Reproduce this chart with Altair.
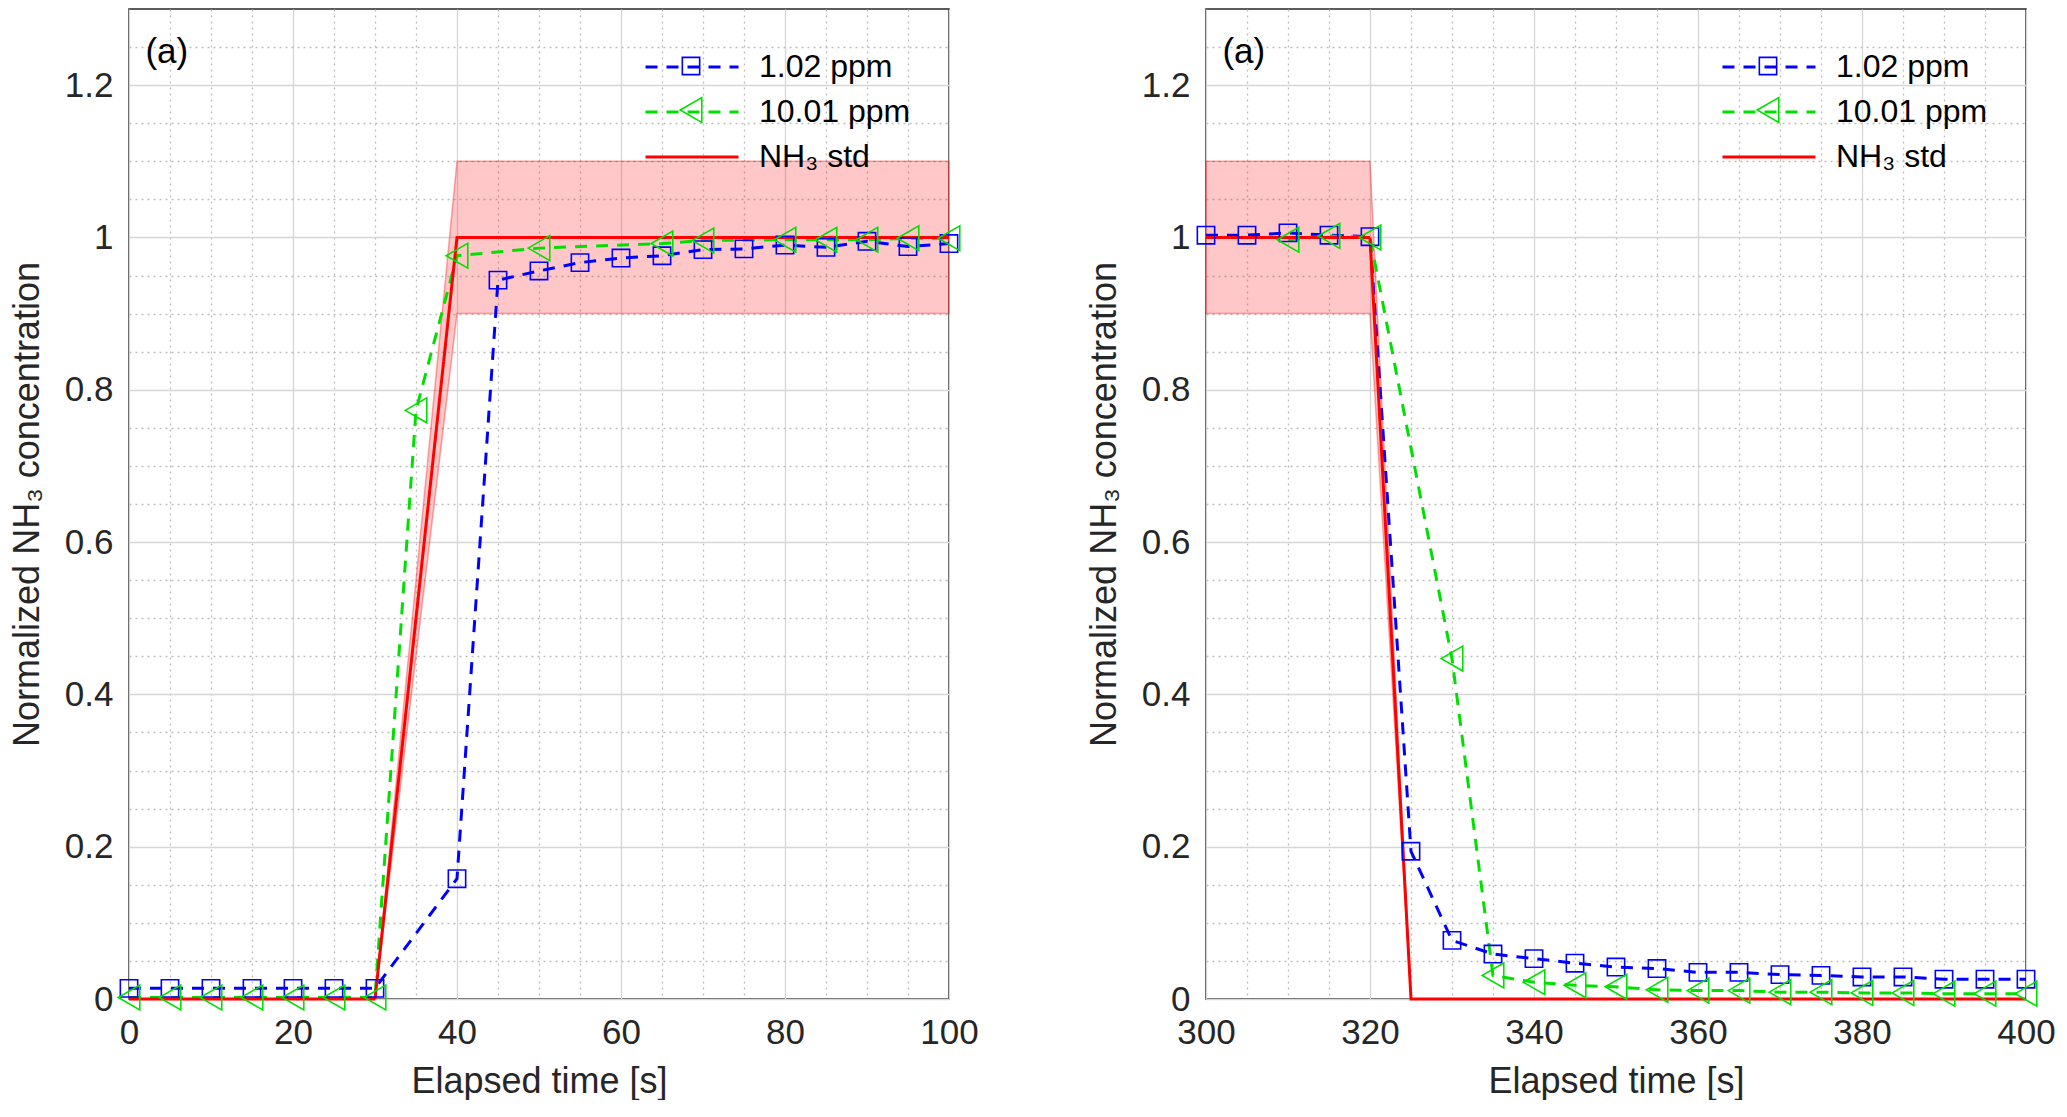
import altair as alt
import pandas as pd

FONT = "Liberation Sans"
INK = "#262626"

# ---- data ----
series_names = ["1.02 ppm", "10.01 ppm", "NH₃ std"]
series_colors = ["#0000ff", "#00e000", "#ff0000"]
series_widths = [3, 3, 2.2]

# left panel: step up (0-100 s)
t_blue_up = [0, 5, 10, 15, 20, 25, 30, 40, 45, 50, 55, 60, 65, 70, 75, 80, 85, 90, 95, 100]
c_blue_up = [0.014, 0.014, 0.014, 0.014, 0.014, 0.014, 0.014, 0.158, 0.944, 0.956, 0.967,
             0.973, 0.976, 0.984, 0.985, 0.990, 0.987, 0.995, 0.988, 0.992]
t_green_up = [0, 5, 10, 15, 20, 25, 30, 35, 40, 50, 65, 70, 80, 85, 90, 95, 100]
c_green_up = [0.002, 0.002, 0.002, 0.002, 0.002, 0.002, 0.002, 0.773, 0.976, 0.986, 0.992,
              0.996, 0.997, 0.997, 0.997, 0.999, 0.999]
t_std_up = [0, 30, 40, 100]
c_std_up = [0, 0, 1, 1]

# right panel: step down (300-400 s)
t_blue_down = [300, 305, 310, 315, 320, 325, 330, 335, 340, 345, 350, 355, 360, 365, 370,
               375, 380, 385, 390, 395, 400]
c_blue_down = [1.003, 1.003, 1.006, 1.003, 1.001, 0.194, 0.077, 0.059, 0.053, 0.047, 0.042,
               0.040, 0.035, 0.035, 0.032, 0.031, 0.029, 0.029, 0.026, 0.026, 0.026]
t_green_down = [310, 315, 320, 330, 335, 340, 345, 350, 355, 360, 365, 370, 375, 380, 385,
                390, 395, 400]
c_green_down = [0.997, 1.002, 1.0, 0.447, 0.031, 0.022, 0.018, 0.016, 0.012, 0.011, 0.011,
                0.009, 0.009, 0.008, 0.008, 0.007, 0.007, 0.007]
t_std_down = [300, 320, 325, 400]
c_std_down = [1, 1, 0, 0]

std_tolerance = 0.1  # +/-10 % band around the standard

y_ticks = [0, 0.05, 0.1, 0.15, 0.2, 0.25, 0.3, 0.35, 0.4, 0.45, 0.5, 0.55, 0.6, 0.65,
           0.7, 0.75, 0.8, 0.85, 0.9, 0.95, 1.0, 1.05, 1.1, 1.15, 1.2, 1.25]
x_ticks_up = [0, 5, 10, 15, 20, 25, 30, 35, 40, 45, 50, 55, 60, 65, 70, 75, 80, 85, 90, 95, 100]
x_ticks_down = [300, 305, 310, 315, 320, 325, 330, 335, 340, 345, 350, 355, 360, 365, 370,
                375, 380, 385, 390, 395, 400]

panel_tag = "(a)"
tag_t_up, tag_t_down, tag_c = 2.0, 302.0, 1.243

# long legend stroke drawn from a small symbol, so the rows stay tight
LEGEND_STROKE = "M-3,0H3"


def grid_props(major_test):
    return dict(
        grid=True,
        gridDash={"condition": {"test": major_test, "value": []}, "value": [2, 4]},
        gridColor={"condition": {"test": major_test, "value": "#d6d6d6"}, "value": "#bdbdbd"},
        gridWidth=1.3,
        ticks=False,
        domain=False,
        labelOverlap=False,
        labelFlush=False,
        labelFont=FONT,
        titleFont=FONT,
        labelFontSize=35,
        titleFontSize=36,
        labelColor=INK,
        titleColor=INK,
        titleFontWeight="normal",
    )


def make_panel(t_b, c_b, t_g, c_g, t_s, c_s, x_ticks, tag_t, width):
    lines = pd.DataFrame({
        "t": t_b + t_g + t_s,
        "c": c_b + c_g + c_s,
        "series": [series_names[0]] * len(t_b) + [series_names[1]] * len(t_g)
                  + [series_names[2]] * len(t_s),
    })
    points = lines[lines["series"] != series_names[2]].rename(columns={"series": "marker"})
    band = pd.DataFrame({
        "t": t_s,
        "lo": [v * (1 - std_tolerance) for v in c_s],
        "hi": [v * (1 + std_tolerance) for v in c_s],
    })
    tag = pd.DataFrame({"t": [tag_t], "c": [tag_c], "txt": [panel_tag]})

    x_axis = alt.Axis(values=x_ticks, title="Elapsed time [s]",
                      labelExpr="datum.value % 20 === 0 ? format(datum.value, 'd') : ''",
                      labelPadding=16, titlePadding=14,
                      **grid_props("datum.value % 20 === 0"))
    y_axis = alt.Axis(values=y_ticks, title="Normalized NH₃ concentration",
                      labelExpr="round(datum.value * 100) % 20 === 0 ? format(datum.value, '.1~f') : ''",
                      labelPadding=16, titlePadding=18,
                      **grid_props("round(datum.value * 100) % 20 === 0"))
    x = alt.X("t:Q", scale=alt.Scale(domain=[x_ticks[0], x_ticks[-1]], nice=False, zero=False), axis=x_axis)
    y_scale = alt.Scale(domain=[0, 1.3], nice=False)

    band_layer = alt.Chart(band).mark_area(
        color="#ff0000", fillOpacity=0.22, stroke="#ff0000", strokeOpacity=0.35, strokeWidth=1.5
    ).encode(x=x, y=alt.Y("lo:Q", scale=y_scale, axis=y_axis), y2="hi:Q")

    leg_lines = alt.Legend(
        orient="none", legendX=546, legendY=41, title=None, padding=0,
        symbolType=LEGEND_STROKE, symbolSize=961, symbolStrokeWidth=2.8,
        labelFont=FONT, labelFontSize=32, labelColor="black", labelOffset=50, rowPadding=12,
    )
    line_layer = alt.Chart(lines).mark_line().encode(
        x=x,
        y=alt.Y("c:Q", scale=y_scale, axis=y_axis),
        color=alt.Color("series:N", scale=alt.Scale(domain=series_names, range=series_colors),
                        legend=leg_lines),
        strokeDash=alt.StrokeDash("series:N",
                                  scale=alt.Scale(domain=series_names, range=[[12, 9], [12, 9], [1, 0]]),
                                  legend=leg_lines),
        strokeWidth=alt.StrokeWidth("series:N", scale=alt.Scale(domain=series_names, range=series_widths),
                                    legend=None),
        order="t:Q",
    )

    # marker-only legend laid over the line legend; its labels are blank
    leg_marks = alt.Legend(
        orient="none", legendX=546, legendY=41, title=None, padding=0,
        symbolStrokeWidth=1.6, labelFont=FONT, labelFontSize=32, labelExpr="''", rowPadding=12,
    )
    point_layer = alt.Chart(points).mark_point(filled=False, strokeWidth=1.6, opacity=1).encode(
        x=x,
        y=alt.Y("c:Q", scale=y_scale, axis=y_axis),
        color=alt.Color("marker:N", scale=alt.Scale(domain=series_names[:2], range=series_colors[:2]),
                        legend=leg_marks),
        shape=alt.Shape("marker:N", scale=alt.Scale(domain=series_names[:2], range=["square", "triangle-left"]),
                        legend=leg_marks),
        size=alt.Size("marker:N", scale=alt.Scale(domain=series_names[:2], range=[300, 620]),
                      legend=leg_marks),
    )

    tag_layer = alt.Chart(tag).mark_text(
        align="left", baseline="middle", font=FONT, fontSize=35, color="black"
    ).encode(x=x, y=alt.Y("c:Q", scale=y_scale, axis=y_axis), text="txt:N")

    return alt.layer(band_layer, line_layer, point_layer, tag_layer).resolve_scale(
        color="independent", shape="independent", size="independent",
        strokeDash="independent", strokeWidth="independent"
    ).properties(width=width, height=990)


left = make_panel(t_blue_up, c_blue_up, t_green_up, c_green_up, t_std_up, c_std_up,
                  x_ticks_up, tag_t_up, 820)
right = make_panel(t_blue_down, c_blue_down, t_green_down, c_green_down, t_std_down, c_std_down,
                   x_ticks_down, tag_t_down, 820)

chart = alt.hconcat(left, right, spacing=106).resolve_scale(
    color="independent", shape="independent", size="independent",
    strokeDash="independent", strokeWidth="independent"
).properties(
    padding={"left": 0, "top": 0, "right": 0, "bottom": 0}, background="white"
).configure_view(stroke=INK, strokeWidth=1.5)

chart.save("out.html", embed_options={"renderer": "svg", "actions": False})
